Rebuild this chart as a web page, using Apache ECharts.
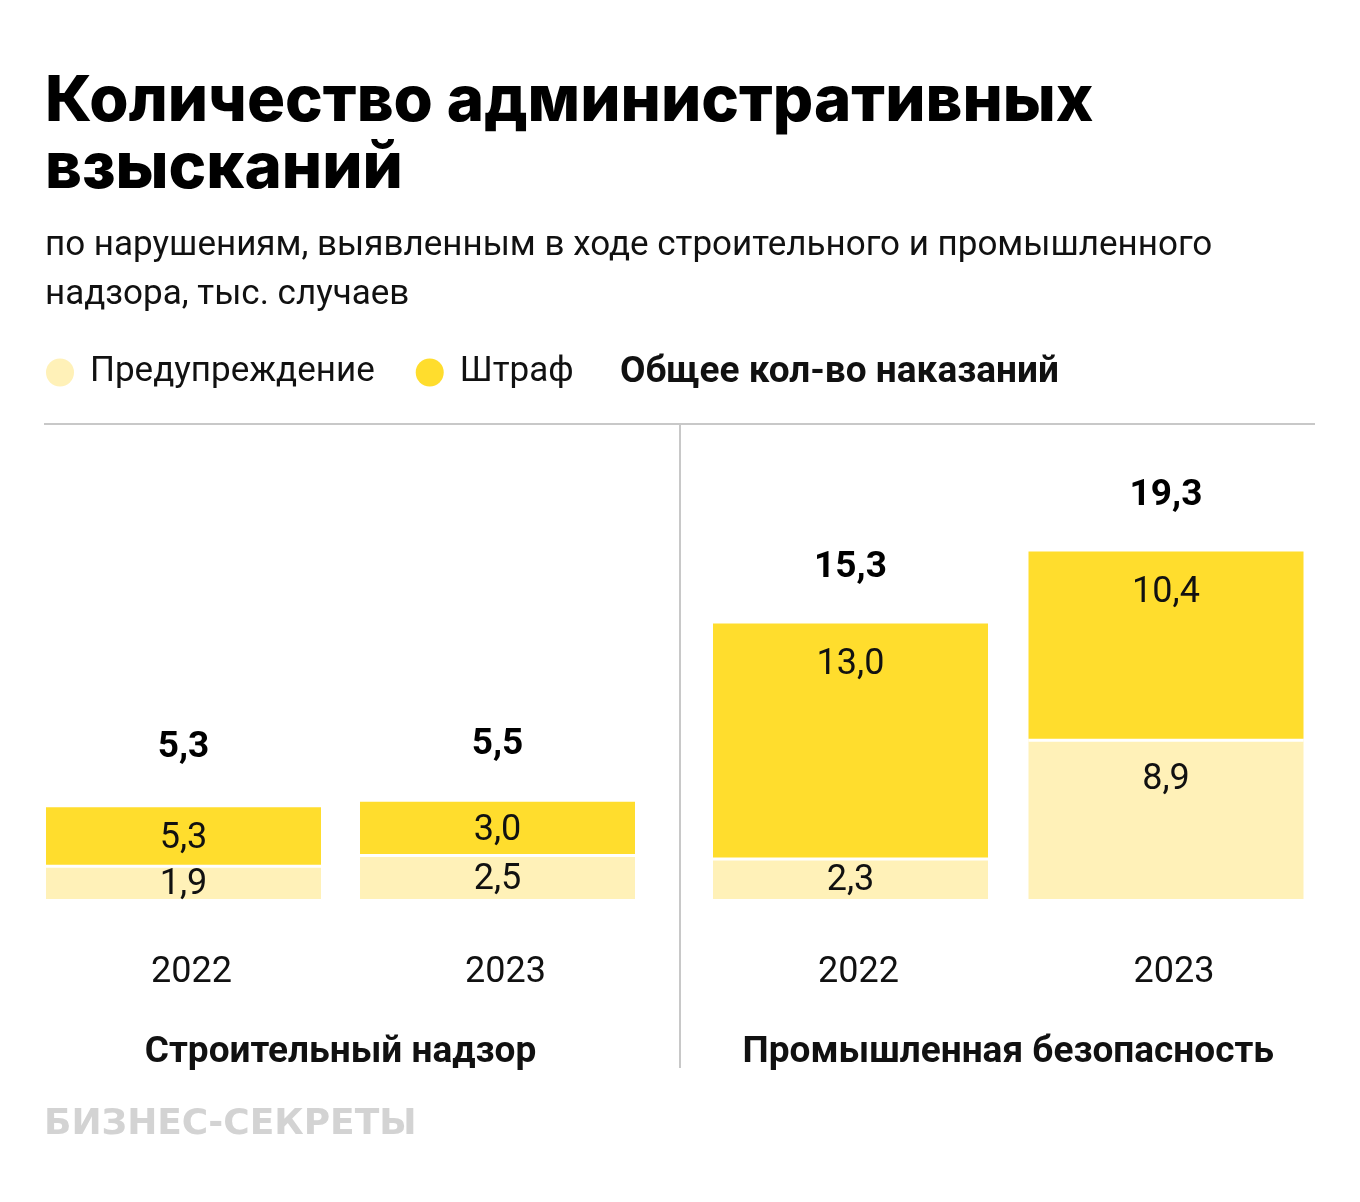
<!DOCTYPE html>
<html><head><meta charset="utf-8">
<script src="https://cdn.jsdelivr.net/npm/echarts@6/dist/echarts.min.js"></script>
<style>html,body{margin:0;padding:0;background:#fff}#c{width:1360px;height:1202px}</style>
</head><body><div id="c"></div>
<script>
const years = ['2022', '2023'];
const panelNames = ['Строительный надзор', 'Промышленная безопасность'];
const warnConstr = [1.9, 2.5];
const fineConstr = [3.2, 2.9];
const fineConstrLabels = ['5,3', '3,0'];
const totalConstr = [5.3, 5.5];
const warnInd = [2.3, 8.9];
const fineInd = [13.0, 10.4];
const fineIndLabels = ['13,0', '10,4'];
const totalInd = [15.3, 19.3];

const FONT = 'Roboto';
const C_WARN = '#FFF1B8';
const C_FINE = '#FFDD2D';
const fmt = v => v.toFixed(1).replace('.', ',');

function segData(vals, labels) {
  return vals.map((v, i) => ({
    value: v,
    label: v > 5 ? { position: 'insideTop', distance: 23, formatter: labels ? labels[i] : fmt(v) }
                 : { position: 'inside', offset: [0, 3], formatter: labels ? labels[i] : fmt(v) }
  }));
}
const segLabel = { show: true, color: '#111', fontFamily: FONT, fontSize: 36 };

function panelSeries(idx, warn, fine, fineLabels, totals) {
  return [
    { name: 'Предупреждение', type: 'bar', stack: 's' + idx, xAxisIndex: idx, yAxisIndex: idx,
      barWidth: 275, itemStyle: { color: C_WARN }, label: segLabel, data: segData(warn), z: 2 },
    { name: 'Штраф', type: 'bar', stack: 's' + idx, xAxisIndex: idx, yAxisIndex: idx,
      barWidth: 275, itemStyle: { color: C_FINE, shadowColor: '#ffffff', shadowBlur: 0, shadowOffsetY: 3 },
      label: segLabel, data: segData(fine, fineLabels), z: 3 },
    { name: 'Общее кол-во наказаний', type: 'scatter', xAxisIndex: idx, yAxisIndex: idx,
      symbolSize: 0, itemStyle: { color: '#000' },
      label: { show: true, position: 'top', distance: 37, color: '#000', opacity: 1,
               textBorderWidth: 0, fontFamily: FONT,
               fontWeight: 'bold', fontSize: 37, formatter: p => fmt(p.value) },
      data: totals, silent: true, z: 5 }
  ];
}

function xAx(idx) {
  return { type: 'category', gridIndex: idx, data: years,
    axisLine: { show: false }, axisTick: { show: false },
    axisLabel: { color: '#111', fontFamily: FONT, fontSize: 36, margin: 56, padding: [0, 0, 0, 16] },
    name: panelNames[idx], nameLocation: 'middle', nameGap: 135,
    nameTextStyle: { color: '#111', fontFamily: FONT, fontSize: 37, fontWeight: 'bold' } };
}
function yAx(idx) {
  return { type: 'value', gridIndex: idx, min: 0, max: 25, show: false, splitLine: { show: false } };
}

const chart = echarts.init(document.getElementById('c'), null, { renderer: 'canvas' });
chart.setOption({
  backgroundColor: '#fff',
  animation: false,
  title: {
    left: 45, top: 68, padding: 0,
    text: 'Количество административных\nвзысканий',
    textStyle: { fontFamily: 'Inter', fontWeight: 800, fontSize: 63.5, lineHeight: 67, color: '#000' },
    subtext: 'по нарушениям, выявленным в ходе строительного и промышленного\nнадзора, тыс. случаев',
    subtextStyle: { fontFamily: FONT, fontSize: 35, lineHeight: 49, color: '#111' },
    itemGap: 20
  },
  legend: {
    left: 41, top: 350, itemWidth: 50, itemHeight: 28, itemGap: 41, icon: 'circle',
    data: ['Предупреждение', 'Штраф'],
    textStyle: { fontFamily: FONT, fontSize: 35, color: '#111' },
    selectedMode: false
  },
  grid: [
    { left: 26.5, width: 628, top: 449, bottom: 303 },
    { left: 692.75, width: 631, top: 449, bottom: 303 }
  ],
  xAxis: [xAx(0), xAx(1)],
  yAxis: [yAx(0), yAx(1)],
  series: [
    ...panelSeries(0, warnConstr, fineConstr, fineConstrLabels, totalConstr),
    ...panelSeries(1, warnInd, fineInd, fineIndLabels, totalInd)
  ],
  graphic: [
    { type: 'text', left: 620, top: 354, style: { text: 'Общее кол-во наказаний', fill: '#111',
      font: 'bold 37px ' + FONT } },
    { type: 'line', shape: { x1: 44, y1: 424, x2: 1315, y2: 424 }, style: { stroke: '#c8c8c8', lineWidth: 2 } },
    { type: 'line', shape: { x1: 680, y1: 424, x2: 680, y2: 1068 }, style: { stroke: '#c8c8c8', lineWidth: 2 } },
    { type: 'text', left: 44, top: 1107, style: { text: 'БИЗНЕС-СЕКРЕТЫ', fill: '#d3d3d3',
      font: 'bold 36px "DejaVu Sans"' } }
  ]
});
</script></body></html>
